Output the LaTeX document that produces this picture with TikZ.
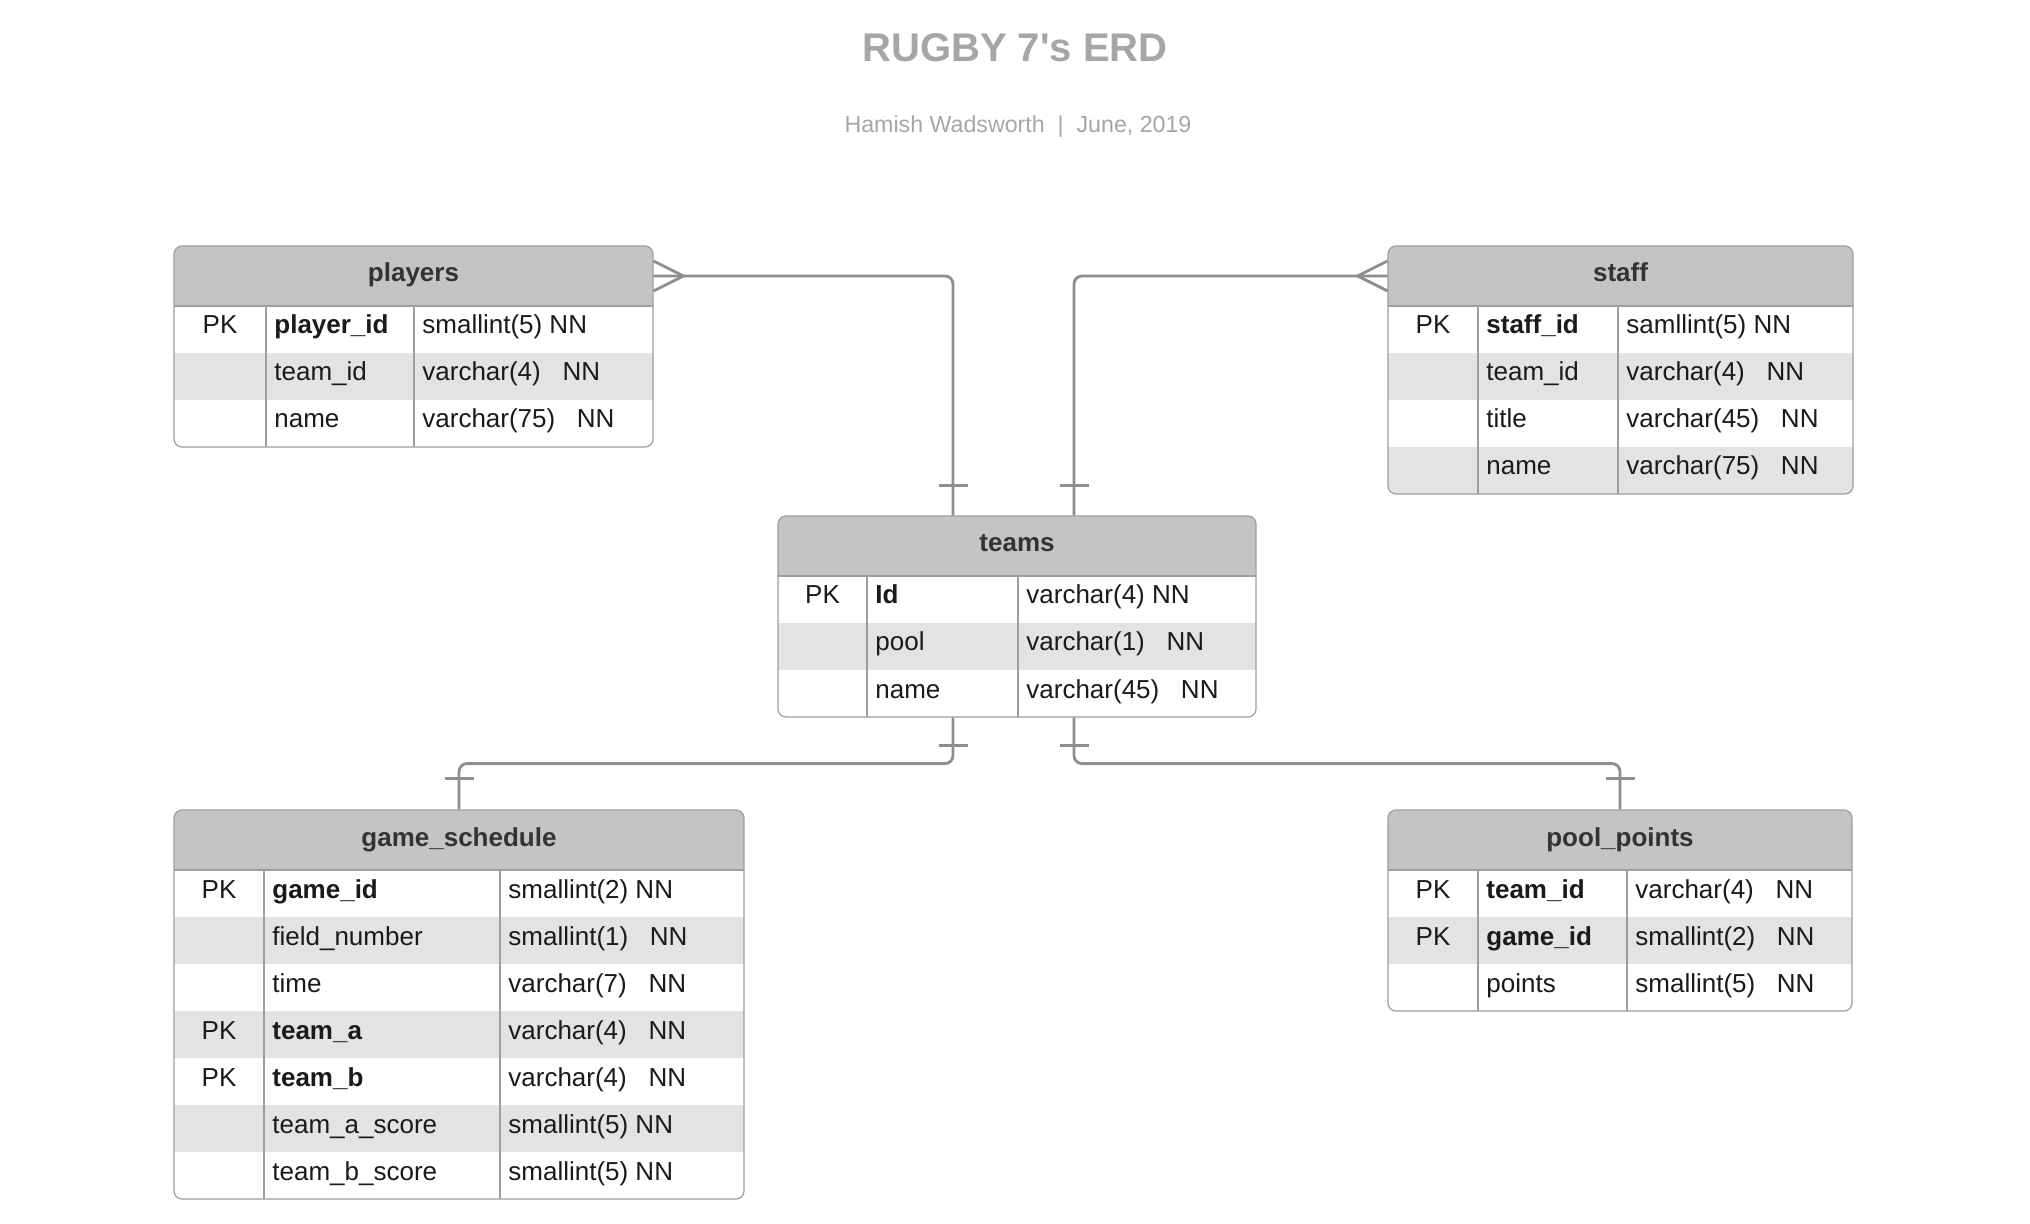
\documentclass[tikz,border=0pt]{standalone}
\usepackage{fontspec}
\setmainfont{Liberation Sans}
\usetikzlibrary{calc,positioning}

\definecolor{headgray}{HTML}{C4C4C4}
\definecolor{rowgray}{HTML}{E3E3E3}
\definecolor{boxline}{HTML}{9E9E9E}
\definecolor{linkgray}{HTML}{8E8E8E}
\definecolor{titlegray}{HTML}{A6A6A6}
\definecolor{headtext}{HTML}{333333}
\definecolor{celltext}{HTML}{1A1A1A}

% table: name, left, top, key width, field width, type width, rows, title, row list
\newcommand{\erdtable}[9]{%
  \begin{scope}
    \clip[rounded corners=4pt] (#2,#3) rectangle ++({#4+#5+#6},{60+#7*47});
    \node[head, minimum width={(#4+#5+#6)*0.5pt}] (#1-h) at ({#2+(#4+#5+#6)/2},{#3+30}) {#8};
    \foreach \pk/\fld/\typ [count=\i] in {#9} {
      \ifodd\i\relax\else
        \fill[rowgray] (#2,{#3+13+\i*47}) rectangle ++({#4+#5+#6},47);
      \fi
      \node[cell, anchor=base] at ({#2+#4/2},{#3+41+\i*47}) {\pk};
      \node[cell, anchor=base west] at ({#2+#4+8},{#3+41+\i*47}) {\fld};
      \node[cell, anchor=base west] at ({#2+#4+#5+8},{#3+41+\i*47}) {\typ};
    }
  \end{scope}
  \draw[colline] (#2,{#3+60}) -- ++({#4+#5+#6},0);
  \draw[colline] ({#2+#4},{#3+60}) -- ++(0,{#7*47});
  \draw[colline] ({#2+#4+#5},{#3+60}) -- ++(0,{#7*47});
  \node[tbox, minimum width={(#4+#5+#6)*0.5pt}, minimum height={(60+#7*47)*0.5pt}]
    (#1) at ({#2+(#4+#5+#6)/2},{#3+(60+#7*47)/2}) {};
}

\begin{document}
\begin{tikzpicture}[
    x=0.5pt, y=-0.5pt,
    head/.style={fill=headgray, text=headtext, font=\fontsize{13pt}{15pt}\selectfont\bfseries,
      minimum height=30pt, inner sep=0, text height=9pt, text depth=3pt},
    cell/.style={text=celltext, font=\fontsize{13pt}{15pt}\selectfont, inner sep=0},
    tbox/.style={draw=boxline, line width=0.6pt, rounded corners=4pt, inner sep=0},
    colline/.style={draw=boxline, line width=0.6pt},
    link/.style={draw=linkgray, line width=1.4pt}
]
    \useasboundingbox (0,0) rectangle (2030,1224);
    \fill[white] (0,0) rectangle (2030,1224);

    % Title
    \node[font=\fontsize{20pt}{23pt}\selectfont\bfseries, text=titlegray, anchor=base, inner sep=0]
      (title) at (1015,62) {RUGBY 7\textquotesingle s ERD};
    \node[font=\fontsize{11.6pt}{14pt}\selectfont, text=titlegray, anchor=base, inner sep=0]
      (subtitle) at (1018,133) {Hamish Wadsworth\ \ |\ \ June, 2019};

    % Tables
    \erdtable{players}{174}{246}{92}{148}{239}{3}{players}{%
      PK/\textbf{player\_id}/smallint(5) NN,
      /team\_id/varchar(4)\ \ \ NN,
      /name/varchar(75)\ \ \ NN}
    \erdtable{staff}{1388}{246}{90}{140}{235}{4}{staff}{%
      PK/\textbf{staff\_id}/samllint(5) NN,
      /team\_id/varchar(4)\ \ \ NN,
      /title/varchar(45)\ \ \ NN,
      /name/varchar(75)\ \ \ NN}
    \erdtable{teams}{778}{516}{89}{151}{238}{3}{teams}{%
      PK/\textbf{Id}/varchar(4) NN,
      /pool/varchar(1)\ \ \ NN,
      /name/varchar(45)\ \ \ NN}
    \erdtable{game}{174}{810}{90}{236}{244}{7}{game\_schedule}{%
      PK/\textbf{game\_id}/smallint(2) NN,
      /field\_number/smallint(1)\ \ \ NN,
      /time/varchar(7)\ \ \ NN,
      PK/\textbf{team\_a}/varchar(4)\ \ \ NN,
      PK/\textbf{team\_b}/varchar(4)\ \ \ NN,
      /team\_a\_score/smallint(5) NN,
      /team\_b\_score/smallint(5) NN}
    \erdtable{pool}{1388}{810}{90}{149}{225}{3}{pool\_points}{%
      PK/\textbf{team\_id}/varchar(4)\ \ \ NN,
      PK/\textbf{game\_id}/smallint(2)\ \ \ NN,
      /points/smallint(5)\ \ \ NN}

    % players -- teams
    \draw[link, rounded corners=4pt] (players-h.east) -| ([xshift=-32pt]teams.north);
    \draw[link] ([xshift=15pt]players-h.east) -- ([yshift=7.5pt]players-h.east)
                ([xshift=15pt]players-h.east) -- ([yshift=-7.5pt]players-h.east);
    \draw[link] ([xshift=-39.25pt,yshift=15pt]teams.north) -- ++(14.5pt,0);

    % staff -- teams
    \draw[link, rounded corners=4pt] (staff-h.west) -| ([xshift=28.5pt]teams.north);
    \draw[link] ([xshift=-15pt]staff-h.west) -- ([yshift=7.5pt]staff-h.west)
                ([xshift=-15pt]staff-h.west) -- ([yshift=-7.5pt]staff-h.west);
    \draw[link] ([xshift=21.25pt,yshift=15pt]teams.north) -- ++(14.5pt,0);

    % teams -- game_schedule
    \draw[link, rounded corners=4pt] ([xshift=-32pt]teams.south) -- ++(0,-23pt) -| (game.north);
    \draw[link] ([xshift=-39.25pt,yshift=-14pt]teams.south) -- ++(14.5pt,0);
    \draw[link] ([xshift=-7.25pt,yshift=15.5pt]game.north) -- ++(14.5pt,0);

    % teams -- pool_points
    \draw[link, rounded corners=4pt] ([xshift=28.5pt]teams.south) -- ++(0,-23pt) -| (pool.north);
    \draw[link] ([xshift=21.25pt,yshift=-14pt]teams.south) -- ++(14.5pt,0);
    \draw[link] ([xshift=-7.25pt,yshift=15.5pt]pool.north) -- ++(14.5pt,0);
\end{tikzpicture}
\end{document}
